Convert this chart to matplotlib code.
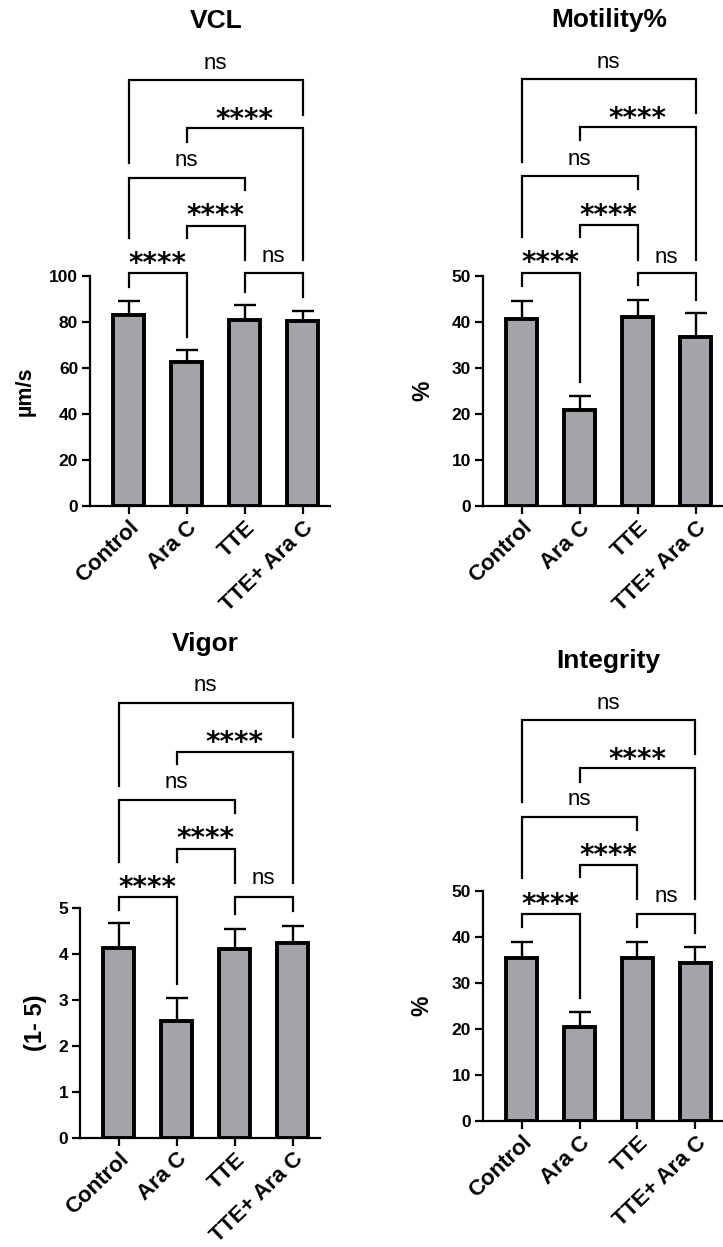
import matplotlib
matplotlib.use('Agg')
import matplotlib.pyplot as plt
import numpy as np

plt.rcParams['font.family'] = ['Liberation Sans', 'DejaVu Sans']

# ---------------- data ----------------
groups = ['Control', 'Ara C', 'TTE', 'TTE+ Ara C']

vcl_mean = [83.0, 62.5, 81.0, 80.5]
vcl_sd = [6.3, 5.3, 6.4, 4.3]

mot_mean = [40.7, 20.9, 41.1, 36.7]
mot_sd = [3.9, 3.1, 3.7, 5.2]

vig_mean = [4.12, 2.54, 4.11, 4.23]
vig_sd = [0.54, 0.49, 0.43, 0.37]

int_mean = [35.4, 20.4, 35.4, 34.3]
int_sd = [3.6, 3.4, 3.6, 3.5]

comparisons = [(0, 3), (1, 3), (0, 2), (1, 2), (0, 1), (2, 3)]
sig_labels = ['ns', '****', 'ns', '****', '****', 'ns']

titles = ['VCL', 'Motility%', 'Vigor', 'Integrity']
ylabels = ['µm/s', '%', '(1- 5)', '%']

# ---------------- layout (bracket levels in data units: horiz, left end, right end, text) ----------------
W, H = 723, 1247
panels = [
    dict(mean=vcl_mean, sd=vcl_sd, ylim=100, step=20, left=90, zero=506, ppu=2.3,
         title_y=210.9, ylab_x=-54, ylab_fs=15.5,
         br=[(185.2, 149.1, 170.0, 192.6), (164.3, 158.3, 107.0, 170.4),
             (142.6, 116.5, 137.4, 150.4), (121.7, 116.5, 107.0, 128.7),
             (101.2, 95.2, 73.5, 107.8), (101.3, 93.0, 90.9, 108.3)]),
    dict(mean=mot_mean, sd=mot_sd, ylim=50, step=10, left=483, zero=506, ppu=4.6,
         title_y=105.6, ylab_x=-49, ylab_fs=16.5,
         br=[(92.8, 74.8, 85.4, 96.5), (82.4, 79.6, 53.5, 85.4),
             (71.7, 58.5, 68.9, 75.4), (61.1, 58.5, 53.5, 64.3),
             (50.7, 47.8, 27.0, 54.1), (50.7, 48.0, 44.8, 54.1)]),
    dict(mean=vig_mean, sd=vig_sd, ylim=5, step=1, left=80, zero=1137.7, ppu=46.0,
         title_y=10.73, ylab_x=-33, ylab_fs=17,
         br=[(9.457, 7.652, 8.704, 9.82), (8.391, 8.124, 5.543, 8.71),
             (7.341, 6.0, 7.065, 7.717), (6.276, 6.0, 5.543, 6.624),
             (5.226, 4.95, 3.341, 5.565), (5.226, 4.863, 4.928, 5.624)]),
    dict(mean=int_mean, sd=int_sd, ylim=50, step=10, left=482.7, zero=1121, ppu=4.6,
         title_y=100.0, ylab_x=-49, ylab_fs=16.5,
         br=[(87.17, 69.41, 79.78, 90.8), (76.67, 73.76, 48.2, 79.78),
             (66.15, 52.76, 63.26, 69.93), (55.65, 52.98, 48.2, 58.9),
             (45.0, 42.1, 26.67, 48.4), (45.0, 42.24, 40.8, 48.76)]),
]

fig = plt.figure(figsize=(W / 100, H / 100), dpi=100)
x = np.arange(len(groups))
ax_w_px = 240

for k, p in enumerate(panels):
    h_px = p['ylim'] * p['ppu']
    ax = fig.add_axes([p['left'] / W, 1 - p['zero'] / H, ax_w_px / W, h_px / H])
    ax.errorbar(x, p['mean'], yerr=[np.zeros(4), p['sd']], fmt='none', ecolor='black',
                elinewidth=1.7, capsize=8, capthick=1.7, zorder=2)
    ax.bar(x, p['mean'], width=0.53, color='#a3a3a8', edgecolor='black', linewidth=2.8, zorder=3)
    ax.set_xlim(-0.67, 3.47)
    ax.set_ylim(0, p['ylim'])
    ax.set_yticks(np.arange(0, p['ylim'] + p['step'] / 2, p['step']))
    ax.set_xticks(x)
    ax.set_xticklabels(groups, rotation=44, ha='right', va='top', rotation_mode='anchor',
                       fontsize=16, fontweight='bold')
    for lab in ax.get_yticklabels():
        lab.set_fontweight('bold')
        lab.set_fontsize(12.5)
    for s in ['top', 'right']:
        ax.spines[s].set_visible(False)
    for s in ['left', 'bottom']:
        ax.spines[s].set_linewidth(1.6)
    ax.tick_params(axis='both', direction='out', length=5.5, width=1.6)
    ax.tick_params(axis='y', pad=3)
    ax.tick_params(axis='x', pad=2.5)
    ax.set_ylabel(ylabels[k], fontsize=p['ylab_fs'], fontweight='bold')
    ax.yaxis.set_label_coords(p['ylab_x'] / ax_w_px, 0.5)
    ax.text(1.5, p['title_y'], titles[k], ha='center', va='center', fontsize=19,
            fontweight='bold', clip_on=False)
    for (i, j), lab, (hy, ly, ry, ty) in zip(comparisons, sig_labels, p['br']):
        ax.plot([i, i, j, j], [ly, hy, hy, ry], color='black', lw=1.6, clip_on=False,
                solid_joinstyle='miter', zorder=4)
        if lab == 'ns':
            ax.text((i + j) / 2, ty, lab, ha='center', va='center', fontsize=16, clip_on=False)
        else:
            ax.annotate(lab, xy=((i + j) / 2, ty), xytext=(0, -4.5), textcoords='offset points',
                        ha='center', va='center', fontsize=20, fontweight='bold',
                        family='DejaVu Sans', annotation_clip=False)

fig.savefig('out.png', dpi=100)
